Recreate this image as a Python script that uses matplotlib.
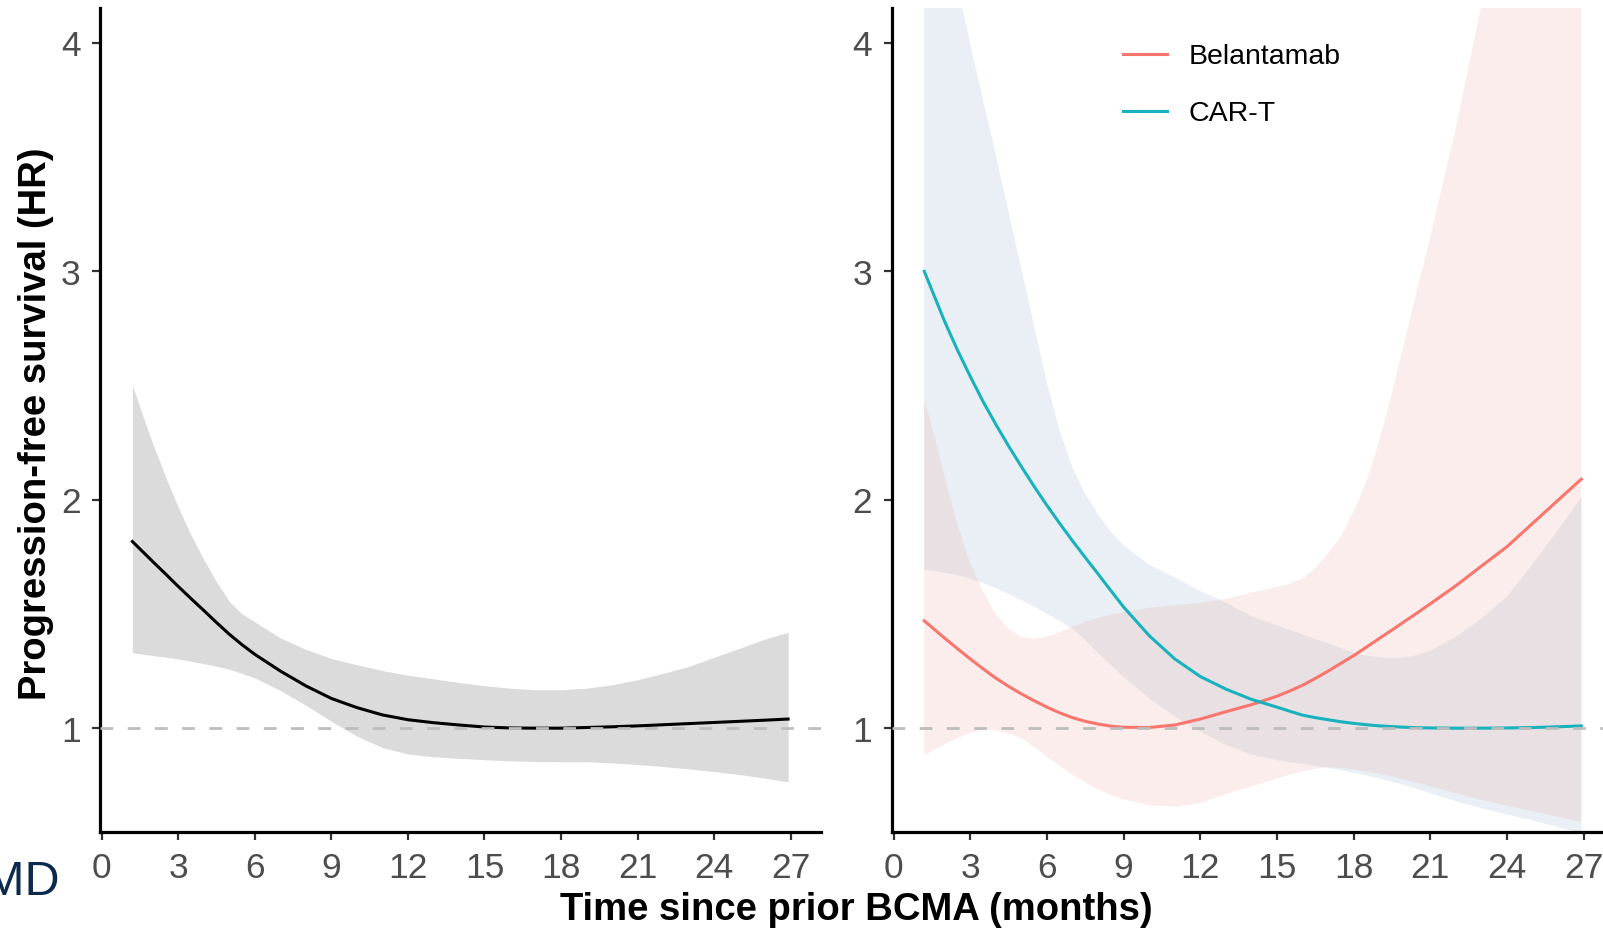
# -*- coding: utf-8 -*-
"""
Time-varying hazard ratio for progression-free survival by time since
prior BCMA therapy: overall (left) and by prior agent (right).
"""
import numpy as np
import matplotlib
matplotlib.use("Agg")
from matplotlib import pyplot as plt
from matplotlib.lines import Line2D

matplotlib.rcParams['font.family'] = ['Liberation Sans', 'DejaVu Sans']

# DATA:=========================================================================
# overall HR with 95% CI
months_all = [1.2, 1.6, 2, 2.5, 3, 3.5, 4, 4.5, 5, 5.5, 6, 7, 8, 9, 10, 11, 12,
              13, 14, 15, 16, 17, 18, 19, 20, 21, 22, 23, 24, 25, 26, 26.9]
hr_all = [1.817, 1.773, 1.729, 1.675, 1.62, 1.567, 1.515, 1.462, 1.411, 1.365,
          1.323, 1.25, 1.185, 1.13, 1.09, 1.058, 1.037, 1.024, 1.014, 1.005,
          1.001, 1.0, 1.0, 1.003, 1.006, 1.01, 1.015, 1.02, 1.025, 1.03, 1.035,
          1.04]
hr_all_hi = [2.50, 2.37, 2.244, 2.10, 1.966, 1.845, 1.737, 1.64, 1.555, 1.50,
             1.465, 1.395, 1.345, 1.305, 1.278, 1.252, 1.232, 1.216, 1.200,
             1.186, 1.175, 1.168, 1.168, 1.175, 1.19, 1.212, 1.24, 1.27, 1.31,
             1.35, 1.39, 1.42]
hr_all_lo = [1.33, 1.324, 1.318, 1.311, 1.303, 1.293, 1.282, 1.271, 1.258,
             1.24, 1.22, 1.165, 1.10, 1.03, 0.965, 0.915, 0.887, 0.875, 0.868,
             0.862, 0.857, 0.854, 0.853, 0.853, 0.848, 0.841, 0.832, 0.822,
             0.81, 0.797, 0.781, 0.765]

# by prior BCMA agent
months_agent = [1.2, 1.6, 2, 2.5, 3, 3.5, 4, 4.5, 5, 5.5, 6, 6.5, 7, 7.5, 8,
                8.5, 9, 10, 11, 12, 13, 14, 15, 15.5, 16, 16.5, 17, 17.5, 18,
                18.5, 19, 19.5, 20, 20.5, 21, 22, 23, 24, 25, 26, 26.9]
hr_bela = [1.47, 1.432, 1.394, 1.348, 1.303, 1.26, 1.219, 1.183, 1.15, 1.12,
           1.092, 1.067, 1.046, 1.03, 1.018, 1.009, 1.004, 1.003, 1.014, 1.04,
           1.072, 1.103, 1.14, 1.163, 1.188, 1.218, 1.25, 1.284, 1.318, 1.355,
           1.393, 1.43, 1.468, 1.506, 1.545, 1.624, 1.71, 1.795, 1.897, 1.999,
           2.09]
hr_bela_hi = [2.44, 2.28, 2.10, 1.89, 1.72, 1.60, 1.497, 1.435, 1.397, 1.392,
              1.40, 1.42, 1.445, 1.465, 1.483, 1.497, 1.508, 1.527, 1.538,
              1.548, 1.566, 1.594, 1.618, 1.633, 1.655, 1.70, 1.765, 1.84,
              1.95, 2.08, 2.26, 2.47, 2.70, 2.93, 3.15, 3.63, 4.17, 4.75, 5.4,
              6.1, 6.8]
hr_bela_lo = [0.883, 0.905, 0.93, 0.957, 0.98, 0.992, 0.99, 0.978, 0.955,
              0.918, 0.876, 0.835, 0.797, 0.762, 0.732, 0.708, 0.688, 0.663,
              0.656, 0.672, 0.712, 0.745, 0.78, 0.796, 0.81, 0.822, 0.83,
              0.826, 0.82, 0.81, 0.80, 0.788, 0.774, 0.76, 0.745, 0.715, 0.686,
              0.66, 0.636, 0.612, 0.59]

hr_cart = [3.00, 2.89, 2.78, 2.655, 2.54, 2.43, 2.33, 2.235, 2.145, 2.058,
           1.975, 1.896, 1.82, 1.747, 1.675, 1.602, 1.53, 1.405, 1.303, 1.226,
           1.171, 1.126, 1.092, 1.074, 1.057, 1.046, 1.037, 1.028, 1.021,
           1.015, 1.01, 1.007, 1.004, 1.002, 1.001, 1.0, 1.0, 1.001, 1.003,
           1.006, 1.01]
hr_cart_hi = [4.95, 4.75, 4.5, 4.25, 3.995, 3.75, 3.51, 3.26, 3.01, 2.76, 2.51,
              2.30, 2.14, 2.025, 1.935, 1.86, 1.80, 1.715, 1.66, 1.60, 1.55,
              1.49, 1.45, 1.43, 1.41, 1.39, 1.37, 1.35, 1.33, 1.317, 1.31,
              1.307, 1.31, 1.32, 1.34, 1.40, 1.48, 1.576, 1.72, 1.87, 2.01]
hr_cart_lo = [1.693, 1.688, 1.68, 1.67, 1.655, 1.636, 1.612, 1.587, 1.56,
              1.532, 1.50, 1.47, 1.435, 1.387, 1.33, 1.277, 1.224, 1.13, 1.051,
              0.985, 0.927, 0.885, 0.86, 0.851, 0.843, 0.835, 0.826, 0.816,
              0.805, 0.793, 0.78, 0.765, 0.75, 0.733, 0.715, 0.68, 0.65, 0.622,
              0.596, 0.567, 0.54]

labels = ['Belantamab', 'CAR-T']
x_ticks = np.arange(0, 28, 3)
y_ticks = [1, 2, 3, 4]

# STYLE:========================================================================
C_BELA = '#F8766D'
C_CART = '#17B2BC'
TICK_COLOR = '#4d4d4d'

W, H = 1603, 929
fig = plt.figure(figsize=((W + 0.5) / 100, (H + 0.5) / 100), dpi=100)

def px_axes(x0, y_top, width, y_bottom):
    # axes rectangle given in pixel coords (origin top-left)
    return fig.add_axes([x0 / W, (H - y_bottom) / H, width / W,
                         (y_bottom - y_top) / H])

def style_axes(ax):
    ax.set_xlim(-0.07, 28.2)
    ax.set_ylim(0.547, 4.155)
    for s in ['top', 'right']:
        ax.spines[s].set_visible(False)
    for s in ['left', 'bottom']:
        ax.spines[s].set_linewidth(2.3)
        ax.spines[s].set_color('black')
    ax.set_xticks(x_ticks)
    ax.set_yticks(y_ticks)
    ax.tick_params(direction='out', length=6, width=1.6, color='#333333',
                   labelsize=25.5, labelcolor=TICK_COLOR)
    ax.tick_params(axis='x', pad=8.5)
    ax.tick_params(axis='y', pad=8)
    # reference line HR = 1, drawn over the curves
    ax.axhline(1, color='#bdbdbd', lw=2.0, dashes=(4.6, 5.2), zorder=5)

ax1 = px_axes(100, 8, 721, 831.7)
ax2 = px_axes(891.5, 8, 722.5, 831.7)

# left panel: overall
ax1.fill_between(months_all, hr_all_lo, hr_all_hi, color='#dbdbdb', lw=0,
                 zorder=1)
ax1.plot(months_all, hr_all, color='black', lw=2.2, zorder=3)
style_axes(ax1)

# right panel: by agent
ax2.fill_between(months_agent, hr_cart_lo, hr_cart_hi, color='#91afc8',
                 alpha=0.2, lw=0, zorder=1)
ax2.fill_between(months_agent, hr_bela_lo, hr_bela_hi, color='#e8a7a0',
                 alpha=0.2, lw=0, zorder=2)
ax2.plot(months_agent, hr_bela, color=C_BELA, lw=2.2, zorder=3)
ax2.plot(months_agent, hr_cart, color=C_CART, lw=2.2, zorder=3)
style_axes(ax2)

handles = [Line2D([], [], color=C_BELA, lw=2.2),
           Line2D([], [], color=C_CART, lw=2.2)]
ax2.legend(handles, labels, loc='upper left',
           bbox_to_anchor=(1122.7 / W, 1 - 44 / H),
           bbox_transform=fig.transFigure, frameon=False, fontsize=20.5,
           handlelength=1.55, handletextpad=0.75, labelspacing=1.1,
           borderpad=0, borderaxespad=0)

# axis titles and the clipped logo text
fig.text(856 / W, (H - 920) / H, 'Time since prior BCMA (months)',
         ha='center', va='baseline', fontsize=27.5, fontweight='bold')
fig.text(36 / W, (H - 424) / H, 'Progression-free survival (HR)',
         rotation=90, ha='center', va='center', fontsize=27.5,
         fontweight='bold')
fig.text(59.5 / W, (H - 895) / H, 'MD', ha='right', va='baseline',
         fontsize=35, color='#0c2a4d')

fig.savefig('out.png', dpi=100)
